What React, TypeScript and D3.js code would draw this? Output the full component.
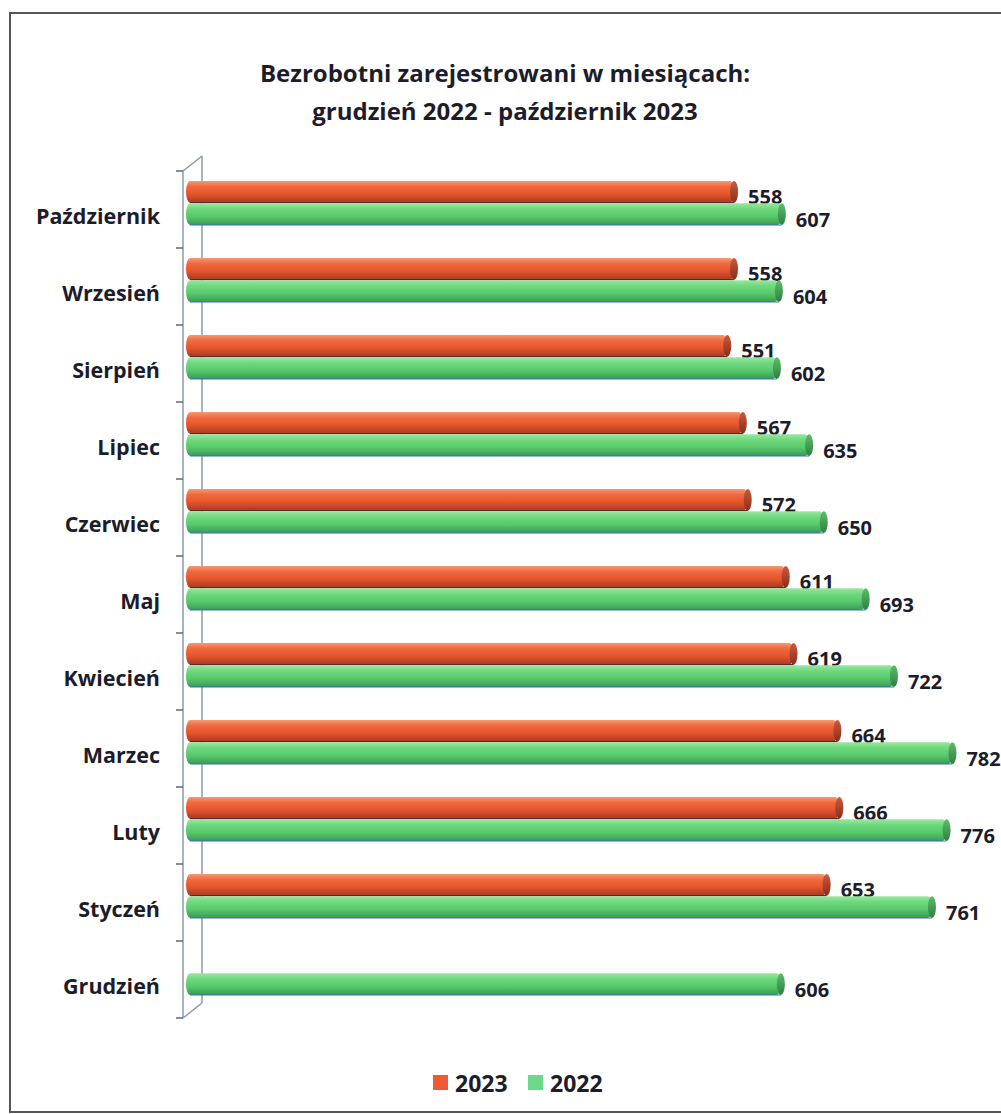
import { useEffect, useRef } from "react"
import * as d3 from "d3"

const months = [
  "Październik",
  "Wrzesień",
  "Sierpień",
  "Lipiec",
  "Czerwiec",
  "Maj",
  "Kwiecień",
  "Marzec",
  "Luty",
  "Styczeń",
  "Grudzień",
]
const values2023: (number | null)[] = [558, 558, 551, 567, 572, 611, 619, 664, 666, 653, null]
const values2022: number[] = [607, 604, 602, 635, 650, 693, 722, 782, 776, 761, 606]
const seriesNames = ["2023", "2022"]
const titleLines = ["Bezrobotni zarejestrowani w miesiącach:", "grudzień 2022 - październik 2023"]

const W = 1001
const H = 1114
const FONT = "'Open Sans', Lato, sans-serif"

export default function App() {
  const svgRef = useRef<SVGSVGElement>(null)

  useEffect(() => {
    if (!svgRef.current) return
    const svg = d3.select(svgRef.current)
    svg.selectAll("*").remove()

    const defs = svg.append("defs")
    const grad = (id: string, stops: [number, string][]) => {
      const g = defs.append("linearGradient").attr("id", id)
        .attr("x1", 0).attr("y1", 0).attr("x2", 0).attr("y2", 1)
      stops.forEach(([o, c]) => g.append("stop").attr("offset", o).attr("stop-color", c))
    }
    grad("gRed", [[0, "#f59a72"], [0.25, "#f06a40"], [0.6, "#e5552c"], [1, "#a83a22"]])
    grad("gGreen", [[0, "#9be6a0"], [0.25, "#6fd97e"], [0.6, "#58c96c"], [1, "#3a9a52"]])
    grad("gRedCap", [[0, "#c85a3c"], [1, "#8a2e1a"]])
    grad("gGreenCap", [[0, "#5cbc6a"], [1, "#2f8040"]])

    // frame
    svg.append("path")
      .attr("d", `M1001,13 H10 V1112 H1001`)
      .attr("fill", "none").attr("stroke", "#555").attr("stroke-width", 2)

    // title
    svg.append("text")
      .attr("x", 505).attr("y", 72)
      .attr("text-anchor", "middle").attr("dominant-baseline", "central")
      .attr("font-family", FONT).attr("font-weight", 700).attr("font-size", 24)
      .attr("fill", "#1c1c2a")
      .selectAll("tspan").data(titleLines).join("tspan")
      .attr("x", 505).attr("dy", (_, i) => (i === 0 ? 0 : 38))
      .text((d) => d)

    const x = d3.scaleLinear().domain([0, 800]).range([190, 970])
    const y = d3.scaleBand().domain(months).range([171, 1018])
    const ys = d3.scaleBand().domain(seriesNames).range([10, 54]).paddingInner(0.03)

    // axis with 3D depth
    const axis = svg.append("g").attr("stroke", "#8a9aa8").attr("fill", "none").attr("stroke-width", 1.5)
    axis.append("path").attr("d", `M183,171 V1018 M202,156 V1003 M183,171 L202,156 M183,1018 L202,1003`)
    const ticks = months.map((m) => y(m)!).concat([1018])
    svg.append("g").selectAll("line").data(ticks).join("line")
      .attr("x1", 176).attr("x2", 183)
      .attr("y1", (d) => d).attr("y2", (d) => d)
      .attr("stroke", "#5a6680").attr("stroke-width", 1.5)

    // category labels
    svg.append("g").selectAll("text").data(months).join("text")
      .attr("x", 160).attr("y", (d) => y(d)! + y.bandwidth() / 2 + 6)
      .attr("text-anchor", "end").attr("dominant-baseline", "central")
      .attr("font-family", FONT).attr("font-weight", 700).attr("font-size", 21.5)
      .attr("fill", "#1c1c2a")
      .text((d) => d)

    type Bar = { month: string; series: string; value: number }
    const bars: Bar[] = []
    months.forEach((m, i) => {
      const v23 = values2023[i]
      if (v23 != null) bars.push({ month: m, series: "2023", value: v23 })
      bars.push({ month: m, series: "2022", value: values2022[i] })
    })

    const h = ys.bandwidth()
    const rx = 4
    const g = svg.append("g").selectAll("g").data(bars).join("g")
      .attr("transform", (d) => `translate(0,${y(d.month)! + ys(d.series)!})`)

    g.append("rect")
      .attr("x", x(0) - rx).attr("y", 0)
      .attr("width", (d) => x(d.value) - x(0) + rx)
      .attr("height", h).attr("rx", rx).attr("ry", h / 2)
      .attr("fill", (d) => (d.series === "2023" ? "url(#gRed)" : "url(#gGreen)"))
    g.append("line")
      .attr("x1", x(0)).attr("x2", (d) => x(d.value))
      .attr("y1", h).attr("y2", h)
      .attr("stroke", (d) => (d.series === "2023" ? "#5a2a30" : "#3b6fc8"))
      .attr("stroke-width", 1.2)
    g.append("ellipse")
      .attr("cx", (d) => x(d.value)).attr("cy", h / 2)
      .attr("rx", rx).attr("ry", h / 2)
      .attr("fill", (d) => (d.series === "2023" ? "url(#gRedCap)" : "url(#gGreenCap)"))

    g.append("text")
      .attr("x", (d) => x(d.value) + 14)
      .attr("y", h / 2 + 5)
      .attr("dominant-baseline", "central")
      .attr("font-family", FONT).attr("font-weight", 700).attr("font-size", 20)
      .attr("fill", "#1c1c2a")
      .text((d) => d.value)

    // legend
    const legend = svg.append("g").attr("transform", "translate(433,1083)")
    const lx = d3.scaleOrdinal<string, number>().domain(seriesNames).range([0, 95])
    const lg = legend.selectAll("g").data(seriesNames).join("g")
      .attr("transform", (d) => `translate(${lx(d)},0)`)
    lg.append("rect").attr("x", 0).attr("y", -8).attr("width", 15).attr("height", 15)
      .attr("fill", (d) => (d === "2023" ? "#ee5a38" : "#6ed88a"))
    lg.append("text").attr("x", 22).attr("y", 0).attr("dominant-baseline", "central")
      .attr("font-family", FONT).attr("font-weight", 700).attr("font-size", 23)
      .attr("fill", "#1c1c2a").text((d) => d)
  }, [])

  return (
    <svg ref={svgRef} width={W} height={H}
      style={{ position: "absolute", left: 0, top: 0, background: "#fff" }} />
  )
}
